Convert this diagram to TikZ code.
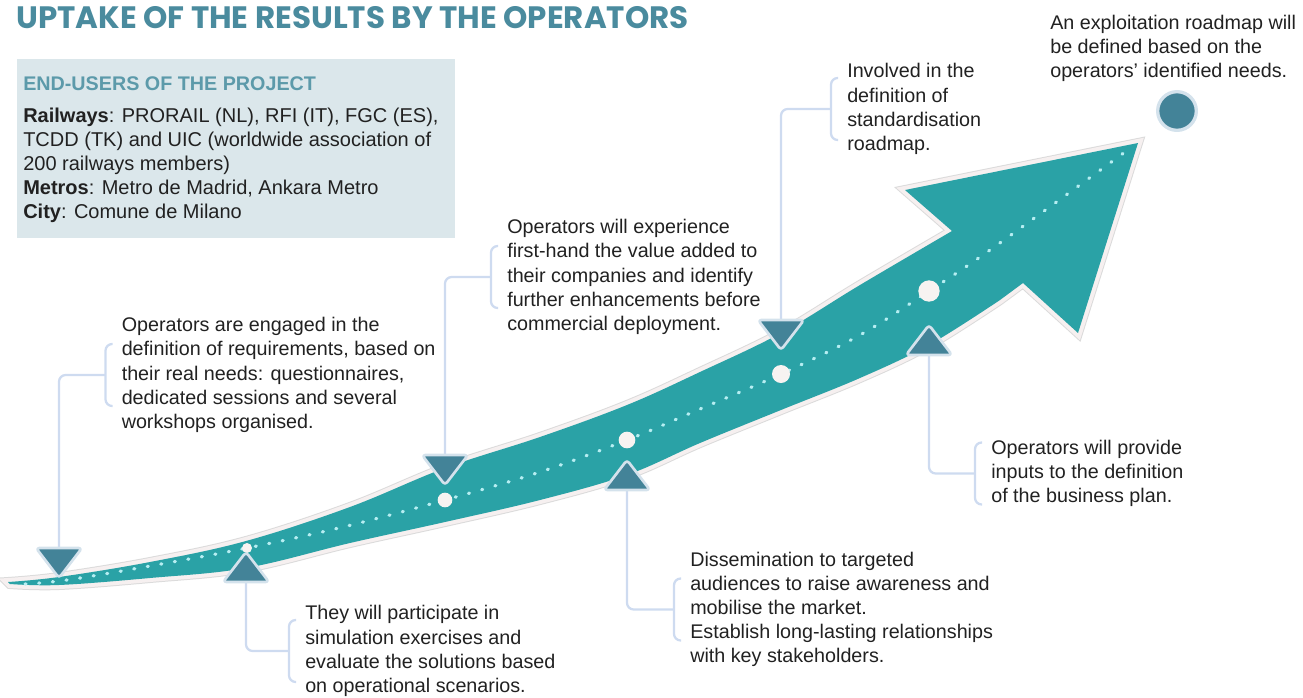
\documentclass[tikz,border=0pt]{standalone}
\usepackage{fontspec}
\setmainfont{Liberation Sans}
\newfontfamily\titlefont{Poppins}
\definecolor{roadteal}{RGB}{42,162,166}
\definecolor{rimwhite}{RGB}{246,240,240}
\definecolor{dotcyan}{RGB}{182,238,242}
\definecolor{spotwhite}{RGB}{247,243,241}
\definecolor{markblue}{RGB}{67,131,152}
\definecolor{markedge}{RGB}{212,226,236}
\definecolor{linkblue}{RGB}{206,219,240}
\definecolor{headteal}{RGB}{74,139,158}
\definecolor{usersteal}{RGB}{92,154,170}
\definecolor{boxfill}{RGB}{219,231,235}
\definecolor{ink}{RGB}{33,33,33}

\begin{document}
\begin{tikzpicture}[x=0.75pt,y=0.75pt,yscale=-1,xscale=1,
  txt/.style={anchor=west,align=left,inner sep=0pt,text=ink,font=\fontsize{14.8}{18.1}\selectfont},
  link/.style={draw=linkblue,line width=1.7pt,rounded corners=5pt},
  tri/.style={fill=markblue,draw=markedge,line width=2pt,rounded corners=2.5pt,line join=round},
  spot/.style={circle,fill=spotwhite,inner sep=0pt}]
\useasboundingbox (0,0) rectangle (1303,697);

% heading and end-users box
\node[anchor=west,inner sep=0pt,text=headteal,font=\titlefont\bfseries\fontsize{23.2}{27}\selectfont] (title) at (16,18) {UPTAKE OF THE RESULTS BY THE OPERATORS};
\fill[boxfill] (17,59) rectangle (455,238);
\node[txt,text=usersteal,font=\bfseries\fontsize{14.8}{18.1}\selectfont] (usershead) at (23,84) {END-USERS OF THE PROJECT};
\node[txt,font=\fontsize{15}{18}\selectfont] (users) at (23,165.5) {\textbf{Railways}: PRORAIL (NL), RFI (IT), FGC (ES),\\TCDD (TK) and UIC (worldwide association of\\200 railways members)\\\textbf{Metros}: Metro de Madrid, Ankara Metro\\\textbf{City}: Comune de Milano};

% road arrow
\path[fill=roadteal,preaction={draw=black!14,line width=7.5pt},preaction={draw=rimwhite,line width=6pt}]
  plot[smooth,tension=0.6] coordinates {(8,582) (59,577) (150,562) (246,541) (350,507) (445,468) (540,437) (627,405) (700,372) (781,333) (860,285) (952,231)}
  -- (905,190) -- (1138,143) -- (1078,333) -- (1023,283)
  -- plot[smooth,tension=0.6] coordinates {(1000,300) (929,345) (860,378) (781,410) (700,443) (627,475) (540,500) (445,522) (350,543) (246,568) (150,578) (59,585) (10,584)} -- cycle;
\draw[draw=dotcyan,line width=2.4pt,line cap=round,dash pattern=on 0.8pt off 9.5pt]
  plot[smooth,tension=0.6] coordinates {(25,584) (67,580) (150,566) (247,548) (343,527) (445,500) (540,472) (627,440) (700,409) (781,374) (860,335) (929,291) (990,250) (1125,152)};

% milestones on the road
\node[spot,minimum size=7.5pt] (s2) at (247,548) {};
\node[spot,minimum size=11pt] (s3) at (445,500) {};
\node[spot,minimum size=12.5pt] (s4) at (627,440) {};
\node[spot,minimum size=13.5pt] (s5) at (781,374) {};
\node[spot,minimum size=16pt] (s6) at (929,291) {};
\node[circle,fill=markblue,draw=markedge,line width=2.5pt,minimum size=29pt,inner sep=0pt] (goal) at (1177,111) {};

% texts
\node[txt] (engage) at (121.5,375) {Operators are engaged in the\\definition of requirements, based on\\their real needs: questionnaires,\\dedicated sessions and several\\workshops organised.};
\node[txt] (experience) at (507,277) {Operators will experience\\first-hand the value added to\\their companies and identify\\further enhancements before\\commercial deployment.};
\node[txt] (standard) at (847,109) {Involved in the\\definition of\\standardisation\\roadmap.};
\node[txt] (exploit) at (1050,48.5) {An exploitation roadmap will\\be defined based on the\\operators' identified needs.};
\node[txt] (business) at (991,473.5) {Operators will provide\\inputs to the definition\\of the business plan.};
\node[txt] (dissem) at (690,609.5) {Dissemination to targeted\\audiences to raise awareness and\\mobilise the market.\\Establish long-lasting relationships\\with key stakeholders.};
\node[txt] (simul) at (305,651) {They will participate in\\simulation exercises and\\evaluate the solutions based\\on operational scenarios.};

% brackets in front of the texts
\coordinate (engage-b) at ([xshift=-12pt]engage.west);
\coordinate (experience-b) at ([xshift=-12pt]experience.west);
\coordinate (standard-b) at ([xshift=-12pt]standard.west);
\coordinate (business-b) at ([xshift=-12pt]business.west);
\coordinate (dissem-b) at ([xshift=-12pt]dissem.west);
\coordinate (simul-b) at ([xshift=-12pt]simul.west);
\draw[link] (engage-b) ++(7,-31) -- ++(-7,0) -- ++(0,62) -- ++(7,0);
\draw[link] (experience-b) ++(7,-31) -- ++(-7,0) -- ++(0,62) -- ++(7,0);
\draw[link] (standard-b) ++(7,-31) -- ++(-7,0) -- ++(0,62) -- ++(7,0);
\draw[link] (business-b) ++(7,-31) -- ++(-7,0) -- ++(0,62) -- ++(7,0);
\draw[link] (dissem-b) ++(7,-31) -- ++(-7,0) -- ++(0,62) -- ++(7,0);
\draw[link] (simul-b) ++(7,-31) -- ++(-7,0) -- ++(0,62) -- ++(7,0);

% markers and their links
\coordinate (t1) at (59,548);
\coordinate (t2) at (246,582);
\coordinate (t3) at (445,455);
\coordinate (t4) at (627,490);
\coordinate (t5) at (781,320);
\coordinate (t6) at (929,355);
\draw[link] (t1) |- (engage-b);
\draw[link] (t2) |- (simul-b);
\draw[link] (t3) |- (experience-b);
\draw[link] (t4) |- (dissem-b);
\draw[link] (t5) |- (standard-b);
\draw[link] (t6) |- (business-b);
\draw[tri] (t1) ++(-23,0) -- ++(46,0) -- ++(-23,30) -- cycle;
\draw[tri] (t2) ++(-23,0) -- ++(46,0) -- ++(-23,-30) -- cycle;
\draw[tri] (t3) ++(-23,0) -- ++(46,0) -- ++(-23,30) -- cycle;
\draw[tri] (t4) ++(-23,0) -- ++(46,0) -- ++(-23,-30) -- cycle;
\draw[tri] (t5) ++(-23,0) -- ++(46,0) -- ++(-23,30) -- cycle;
\draw[tri] (t6) ++(-23,0) -- ++(46,0) -- ++(-23,-30) -- cycle;

\end{tikzpicture}
\end{document}
